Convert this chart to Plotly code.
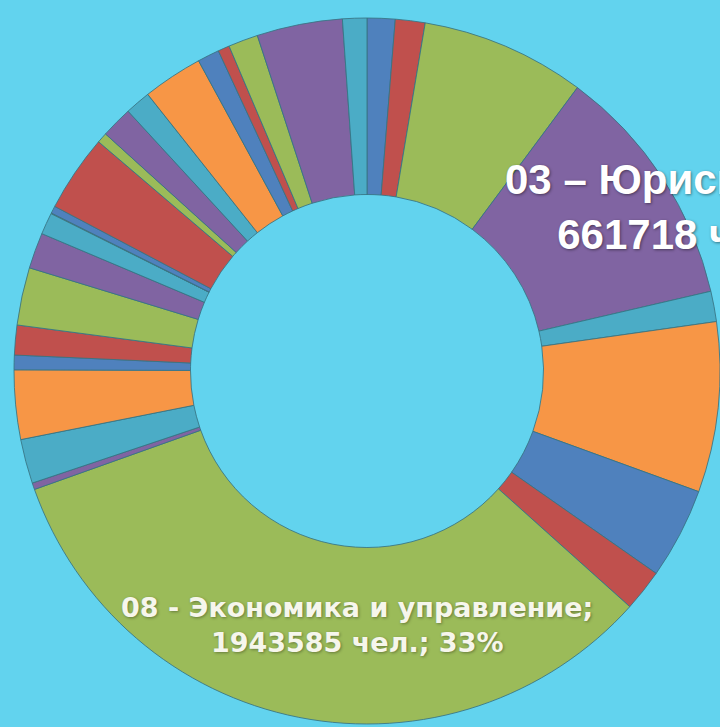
import plotly.graph_objects as go

# Categories (clockwise from 12 o'clock)
categories = [
    "01", "02", "03", "03 – Юриспруденция", "04", "05", "06", "07",
    "08 - Экономика и управление", "09", "10", "11", "12", "13", "14", "15",
    "16", "17", "18", "19", "20", "21", "22", "23", "24", "25", "26", "27", "28",
]
# Number of people per category
people = [
    75400, 80400, 444400, 661718, 82000, 460000, 246000, 113200,
    1943585, 18000, 119700, 187000, 39400, 80400, 155800, 96800,
    59000, 1600, 19700, 208300, 27900, 85300, 68900, 162400,
    59000, 31200, 80400, 231200, 65600,
]
labelled = ["03 – Юриспруденция", "08 - Экономика и управление"]

palette = ["#4F81BD", "#C0504D", "#9BBB59", "#8064A2", "#4BACC6", "#F79646"]
colors = [palette[i % len(palette)] for i in range(len(categories))]

bg = "#62D3EE"
W, H = 720, 727
cx, cy, r = 367, 371, 353

fig = go.Figure(go.Pie(
    labels=categories,
    values=people,
    sort=False,
    direction="clockwise",
    rotation=0,
    hole=0.5,
    textinfo="none",
    hoverinfo="label+value+percent",
    marker=dict(colors=colors, line=dict(color="rgba(55,115,130,0.85)", width=1)),
    domain=dict(x=[(cx - r) / W, 1.0], y=[(H - cy - r) / H, (H - cy + r) / H]),
))

total = sum(people)
def label_text(name):
    v = people[categories.index(name)]
    return f"{name};<br>{v} чел.; {v / total:.0%}"

fig.add_annotation(
    text=label_text(labelled[0]), xref="paper", yref="paper",
    x=503 / W, y=1 - 207 / H, xanchor="left", yanchor="middle",
    showarrow=False, align="center",
    font=dict(family="Liberation Sans", size=42, color="#FFFFFF",
              weight="bold", shadow="1px 1px 3px rgba(0,0,0,0.45)"),
)
fig.add_annotation(
    text=label_text(labelled[1]), xref="paper", yref="paper",
    x=357 / W, y=1 - 625 / H, xanchor="center", yanchor="middle",
    showarrow=False, align="center",
    font=dict(family="DejaVu Sans", size=27, color="#F6F6EC",
              weight="bold", shadow="1px 1px 3px rgba(0,0,0,0.35)"),
)

fig.update_layout(
    width=W, height=H,
    margin=dict(l=0, r=0, t=0, b=0),
    paper_bgcolor=bg, plot_bgcolor=bg,
    showlegend=False,
)
fig.write_html(
    "out.html",
    config={"displayModeBar": False},
    post_script="document.body.style.margin='0';document.body.style.background='" + bg + "';",
)
